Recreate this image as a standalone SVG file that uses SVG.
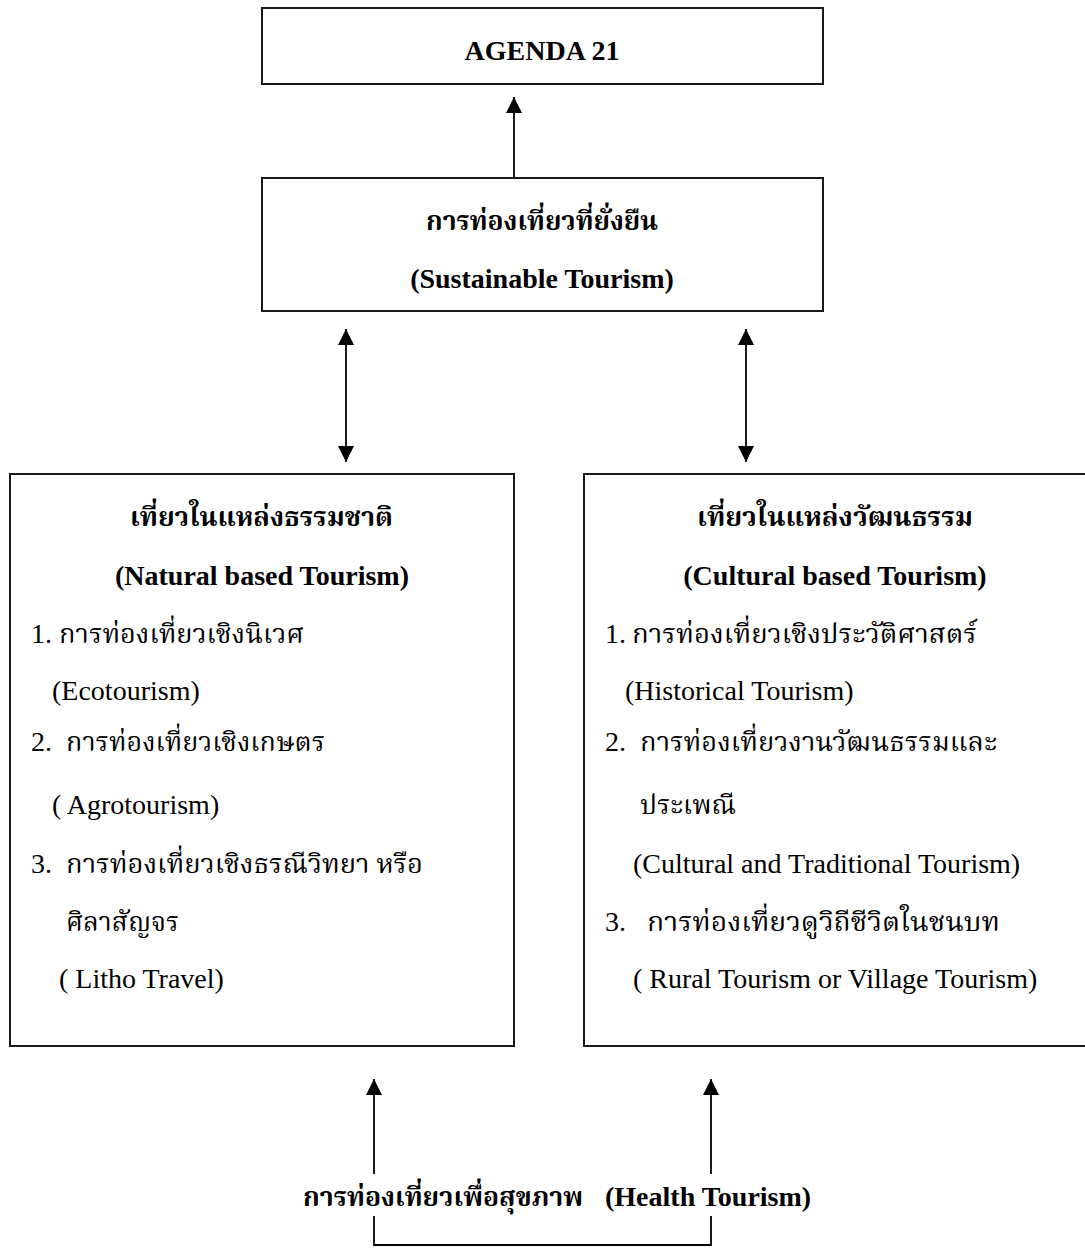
<svg xmlns="http://www.w3.org/2000/svg" width="1085" height="1254" viewBox="0 0 1085 1254">
<style>
.box{fill:none;stroke:#1a1a1a;stroke-width:2}
.ln{fill:none;stroke:#000;stroke-width:1.8}
text{font-family:"Liberation Serif","Noto Serif Thai","Noto Sans Thai",serif;fill:#000;font-size:28px}
.b{font-weight:bold}
.th{font-size:26px}
.c{text-anchor:middle}
</style>
<defs>
<marker id="ah" markerUnits="userSpaceOnUse" markerWidth="16" markerHeight="16" refX="15" refY="7.5" orient="auto-start-reverse" viewBox="0 0 15 15">
<path d="M0,0 L15,7.5 L0,15 Z" fill="#000"/>
</marker>
</defs>
<rect width="1085" height="1254" fill="#fff"/>
<g id="agenda21">
<rect class="box" x="262" y="8" width="561" height="76"/>
<text class="b c" x="542" y="60">AGENDA 21</text>
</g>
<g id="sustainable">
<rect class="box" x="262" y="178" width="561" height="133"/>
<text class="b th" x="426" y="230" textLength="232" lengthAdjust="spacingAndGlyphs">การท่องเที่ยวที่ยั่งยืน</text>
<text class="b c" x="542" y="288">(Sustainable Tourism)</text>
</g>
<g id="natural">
<rect class="box" x="10" y="474" width="504" height="572"/>
<text class="b th" x="130" y="526" textLength="263" lengthAdjust="spacingAndGlyphs">เที่ยวในแหล่งธรรมชาติ</text>
<text class="b c" x="262" y="585">(Natural based Tourism)</text>
<text x="31" y="643">1.</text>
<text class="th" x="59" y="643" textLength="245" lengthAdjust="spacingAndGlyphs">การท่องเที่ยวเชิงนิเวศ</text>
<text x="52" y="700">(Ecotourism)</text>
<text x="31" y="751">2.</text>
<text class="th" x="66" y="751" textLength="259" lengthAdjust="spacingAndGlyphs">การท่องเที่ยวเชิงเกษตร</text>
<text x="52" y="814">( Agrotourism)</text>
<text x="31" y="873">3.</text>
<text class="th" x="66" y="873" textLength="357" lengthAdjust="spacingAndGlyphs">การท่องเที่ยวเชิงธรณีวิทยา หรือ</text>
<text class="th" x="66" y="931" textLength="113" lengthAdjust="spacingAndGlyphs">ศิลาสัญจร</text>
<text x="59" y="988">( Litho Travel)</text>
</g>
<g id="cultural">
<rect class="box" x="584" y="474" width="520" height="572"/>
<text class="b th" x="697" y="526" textLength="276" lengthAdjust="spacingAndGlyphs">เที่ยวในแหล่งวัฒนธรรม</text>
<text class="b c" x="835" y="585">(Cultural based Tourism)</text>
<text x="605" y="643">1.</text>
<text class="th" x="632" y="643" textLength="345" lengthAdjust="spacingAndGlyphs">การท่องเที่ยวเชิงประวัติศาสตร์</text>
<text x="625" y="700">(Historical Tourism)</text>
<text x="605" y="751">2.</text>
<text class="th" x="640" y="751" textLength="357" lengthAdjust="spacingAndGlyphs">การท่องเที่ยวงานวัฒนธรรมและ</text>
<text class="th" x="640" y="814" textLength="96" lengthAdjust="spacingAndGlyphs">ประเพณี</text>
<text x="633" y="873">(Cultural and Traditional Tourism)</text>
<text x="605" y="931">3.</text>
<text class="th" x="647" y="931" textLength="353" lengthAdjust="spacingAndGlyphs">การท่องเที่ยวดูวิถีชีวิตในชนบท</text>
<text x="633" y="988">( Rural Tourism or Village Tourism)</text>
</g>
<g id="health">
<text class="b th" x="303" y="1206" textLength="280" lengthAdjust="spacingAndGlyphs">การท่องเที่ยวเพื่อสุขภาพ</text>
<text class="b" x="605" y="1206">(Health Tourism)</text>
</g>
<g id="connectors">
<line class="ln" x1="514" y1="178" x2="514" y2="97" marker-end="url(#ah)"/>
<line class="ln" x1="346" y1="329" x2="346" y2="462" marker-start="url(#ah)" marker-end="url(#ah)"/>
<line class="ln" x1="746" y1="329" x2="746" y2="462" marker-start="url(#ah)" marker-end="url(#ah)"/>
<line class="ln" x1="374" y1="1174" x2="374" y2="1079" marker-end="url(#ah)"/>
<line class="ln" x1="711" y1="1174" x2="711" y2="1079" marker-end="url(#ah)"/>
<path class="ln" d="M374,1216 V1245 H711 V1216"/>
</g>
</svg>
